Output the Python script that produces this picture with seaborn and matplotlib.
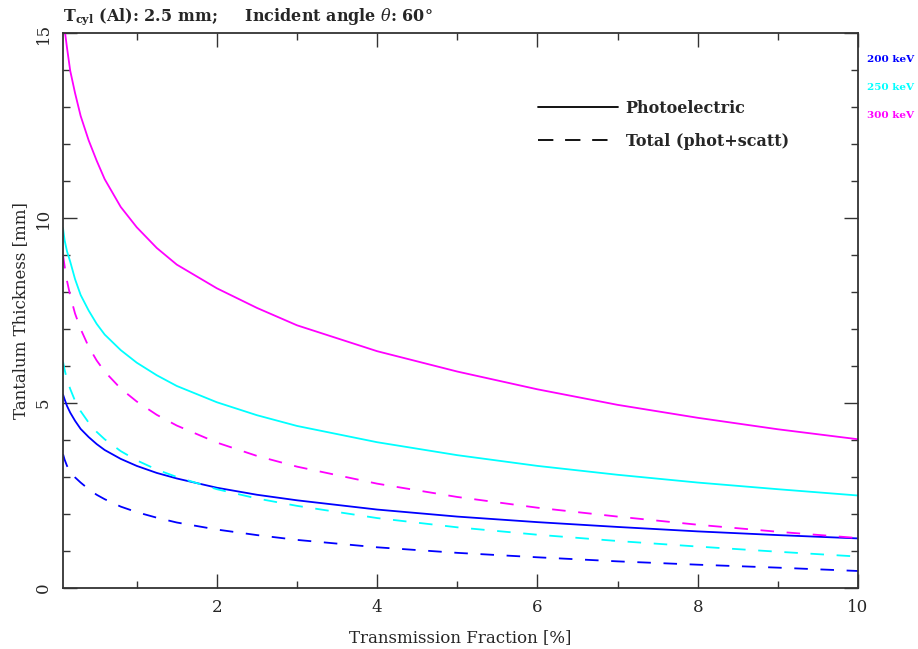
import matplotlib
matplotlib.use("Agg")
import matplotlib.pyplot as plt
import seaborn as sns
import pandas as pd
from matplotlib.lines import Line2D

# ---- data ----
energies = ["200 keV", "250 keV", "300 keV"]
kinds = ["Photoelectric", "Total (phot+scatt)"]

x_grid = [0.08, 0.1, 0.13, 0.17, 0.23, 0.3, 0.4, 0.5, 0.6, 0.8, 1.0, 1.25, 1.5,
          2.0, 2.5, 3.0, 4.0, 5.0, 6.0, 7.0, 8.0, 9.0, 10.0]

y_200_phot = [5.23, 5.10, 4.92, 4.74, 4.52, 4.30, 4.08, 3.89, 3.73, 3.49, 3.30, 3.11, 2.96,
              2.71, 2.52, 2.37, 2.12, 1.93, 1.78, 1.65, 1.53, 1.43, 1.34]
y_200_tot = [3.62, 3.47, 3.30, 3.14, 2.99, 2.85, 2.67, 2.52, 2.40, 2.20, 2.05, 1.90, 1.77,
             1.58, 1.43, 1.30, 1.10, 0.95, 0.83, 0.72, 0.63, 0.55, 0.46]

y_250_phot = [9.73, 9.40, 9.10, 8.82, 8.35, 7.92, 7.50, 7.14, 6.85, 6.43, 6.09, 5.75, 5.46,
              5.02, 4.67, 4.38, 3.94, 3.59, 3.30, 3.06, 2.85, 2.67, 2.50]
y_250_tot = [6.12, 5.90, 5.63, 5.38, 5.06, 4.78, 4.47, 4.22, 4.02, 3.70, 3.45, 3.20, 3.00,
             2.67, 2.42, 2.22, 1.89, 1.64, 1.44, 1.27, 1.12, 0.98, 0.85]

y_300_phot = [15.6, 15.1, 14.6, 13.98, 13.38, 12.76, 12.10, 11.55, 11.05, 10.30, 9.75, 9.19, 8.74,
              8.10, 7.57, 7.10, 6.40, 5.85, 5.37, 4.95, 4.60, 4.29, 4.02]
y_300_tot = [9.00, 8.70, 8.30, 7.90, 7.42, 7.00, 6.52, 6.15, 5.85, 5.39, 5.04, 4.68, 4.39,
             3.93, 3.57, 3.28, 2.82, 2.46, 2.17, 1.93, 1.71, 1.52, 1.35]

title_text = r"T$_\mathbf{cyl}$ (Al): 2.5 mm;     Incident angle $\theta$: 60°"
x_label = "Transmission Fraction [%]"
y_label = "Tantalum Thickness [mm]"
x_ticks = [2, 4, 6, 8, 10]
y_ticks = [0, 5, 10, 15]

series = [
    ("200 keV", "Photoelectric", y_200_phot),
    ("200 keV", "Total (phot+scatt)", y_200_tot),
    ("250 keV", "Photoelectric", y_250_phot),
    ("250 keV", "Total (phot+scatt)", y_250_tot),
    ("300 keV", "Photoelectric", y_300_phot),
    ("300 keV", "Total (phot+scatt)", y_300_tot),
]
rows = []
for e, k, ys in series:
    for xv, yv in zip(x_grid, ys):
        rows.append({"energy": e, "kind": k, "x": xv, "y": yv})
df = pd.DataFrame(rows)

colors = {"200 keV": "#0000ff", "250 keV": "#00ffff", "300 keV": "#ff00ff"}

sns.set_theme(style="white")
plt.rcParams["font.family"] = ["DejaVu Serif"]
plt.rcParams["mathtext.fontset"] = "dejavuserif"

fig = plt.figure(figsize=(9.18, 6.49), dpi=100)
ax = fig.add_axes([63 / 918, 1 - 588 / 649, (858 - 63) / 918, (588 - 33) / 649])

sns.lineplot(data=df, x="x", y="y", hue="energy", style="kind",
             palette=colors, dashes={"Photoelectric": "", "Total (phot+scatt)": (7.5, 7)},
             estimator=None, sort=True, legend=False, linewidth=1.3, ax=ax)

ax.set_xlim(0.08, 10)
ax.set_ylim(0, 15)
ax.set_xticks(x_ticks)
ax.set_xticks([1, 3, 5, 7, 9], minor=True)
ax.set_yticks(y_ticks)
ax.set_yticks([v for v in range(16) if v % 5], minor=True)
ax.tick_params(which="both", direction="in", top=True, right=True, bottom=True, left=True,
               color="#333333", width=1.0)
ax.tick_params(which="major", length=10, labelsize=12, pad=8)
ax.tick_params(which="minor", length=5)
for lab in ax.get_yticklabels():
    lab.set_rotation(90)
    lab.set_va("center")
for s in ax.spines.values():
    s.set_color("#333333")
    s.set_linewidth(1.3)

ax.set_xlabel(x_label, fontsize=12, labelpad=9)
ax.set_ylabel(y_label, fontsize=12, labelpad=4)
ax.set_title(title_text, loc="left", fontsize=11.5, fontweight="bold", pad=9)

handles = [Line2D([], [], color="black", lw=1.3, ls="-"),
           Line2D([], [], color="black", lw=1.3, dashes=(8.5, 6.5))]
ax.legend(handles, kinds, loc="upper left", bbox_to_anchor=(0.579, 0.906), frameon=False,
          handlelength=5.0, handletextpad=0.5, labelspacing=1.0,
          prop={"family": "DejaVu Serif", "weight": "bold", "size": 11.5})

for i, e in enumerate(energies):
    ax.text(1.011, 0.953 - i * 0.051, e, transform=ax.transAxes, color=colors[e],
            fontsize=7.5, fontweight="bold", ha="left", va="center")

fig.savefig("out.png", dpi=100)
